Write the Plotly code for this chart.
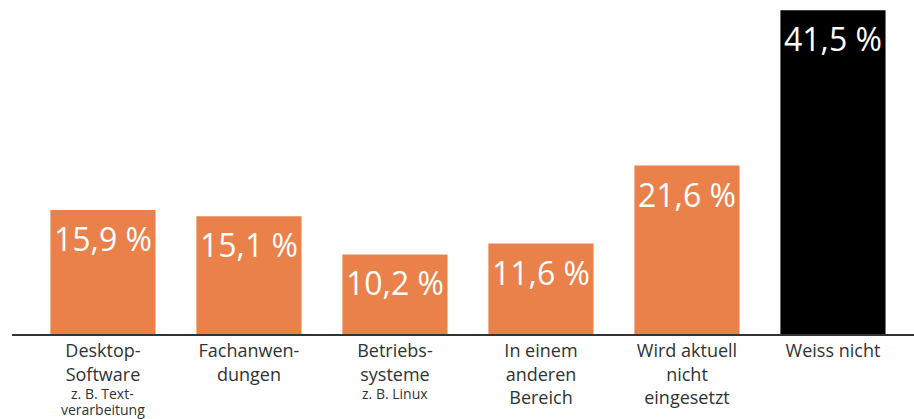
import plotly.graph_objects as go

# Survey answers: where the software is used
categories = ["Desktop-Software", "Fachanwendungen", "Betriebssysteme",
              "In einem anderen Bereich", "Wird aktuell nicht eingesetzt", "Weiss nicht"]
tick_labels = ["Desktop-<br>Software", "Fachanwen-<br>dungen", "Betriebs-<br>systeme",
               "In einem<br>anderen<br>Bereich", "Wird aktuell<br>nicht<br>eingesetzt",
               "Weiss nicht"]
sub_labels = [["z. B. Text-", "verarbeitung"], [], ["z. B. Linux"], [], [], []]
values = [15.9, 15.1, 10.2, 11.6, 21.6, 41.5]
value_labels = ["15,9 %", "15,1 %", "10,2 %", "11,6 %", "21,6 %", "41,5 %"]

ORANGE = "#EA804A"
colors = [ORANGE] * 5 + ["#000000"]
FONT = "Open Sans"
TEXT = "#2f3333"

fig = go.Figure(
    go.Bar(
        x=categories,
        y=values,
        marker=dict(color=colors, line=dict(width=0)),
        width=0.72,
        hoverinfo="skip",
    )
)

# value labels inside the top of each bar
for cat, v, lab in zip(categories, values, value_labels):
    fig.add_annotation(
        x=cat, y=v, xref="x", yref="y",
        text=lab, showarrow=False,
        yanchor="top", yshift=-5,
        font=dict(family=FONT, size=32, color="white"),
    )

# small explanatory lines under some categories, one annotation per line
for cat, lines in zip(categories, sub_labels):
    for i, line in enumerate(lines):
        fig.add_annotation(
            x=cat, y=0, xref="x", yref="paper",
            text=line, showarrow=False, borderpad=0,
            yanchor="top", yshift=-49 - 16 * i,
            font=dict(family=FONT, size=14, color=TEXT),
        )

fig.update_xaxes(
    type="category",
    range=[-0.623, 5.555],
    tickmode="array",
    tickvals=categories,
    ticktext=tick_labels,
    tickfont=dict(family=FONT, size=18, color=TEXT),
    showline=True, linecolor="#333333", linewidth=1.5,
    ticks="", showgrid=False, zeroline=False,
)
fig.update_yaxes(
    range=[0, 334 / 7.8],
    visible=False, showgrid=False, zeroline=False,
)
fig.update_layout(
    width=914, height=419,
    margin=dict(l=12, r=0, t=0, b=85),
    paper_bgcolor="white", plot_bgcolor="white",
    showlegend=False,
    bargap=0.28,
)

fig.write_html("out.html")
